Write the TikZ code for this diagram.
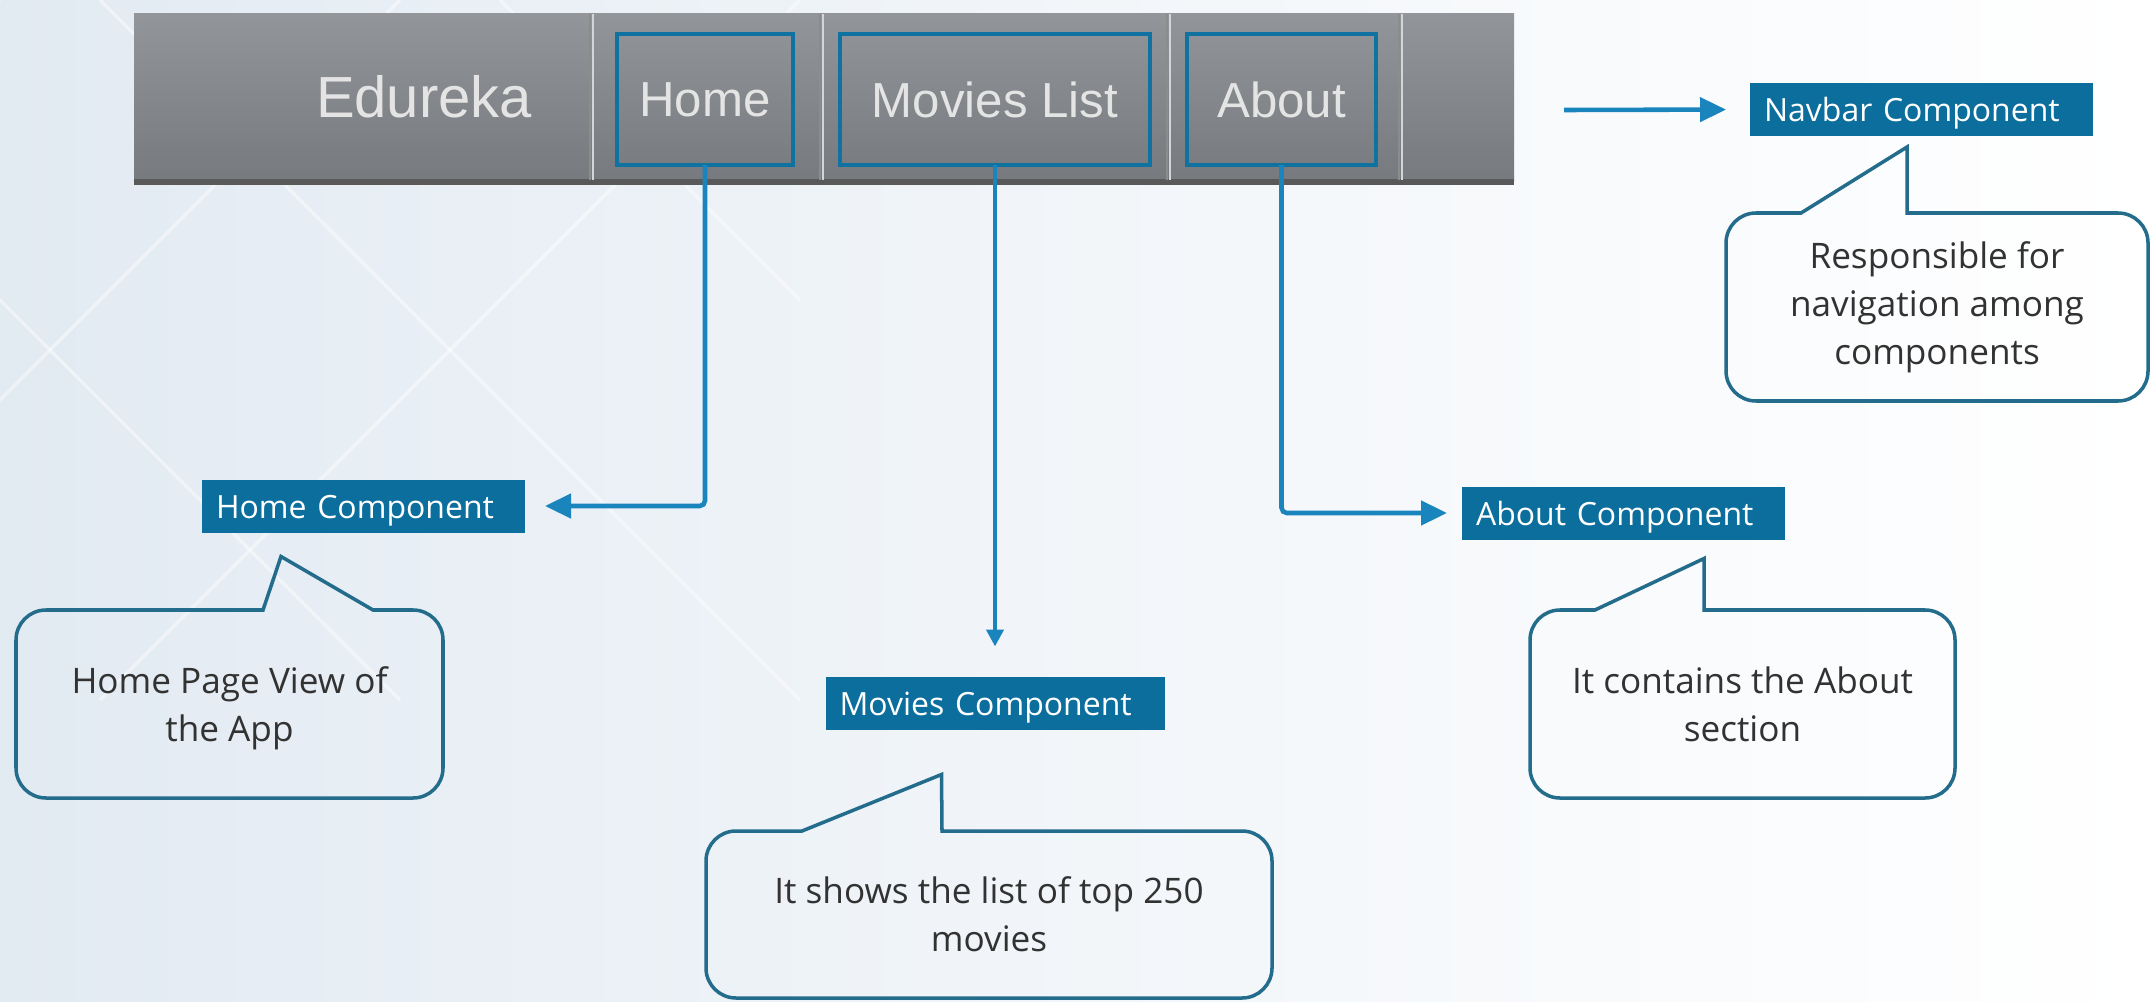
\documentclass[tikz,border=0pt]{standalone}
\usepackage{fontspec}
\setmainfont{Open Sans}
\newfontfamily\navfont{Liberation Sans}
\usepackage{xcolor}
\usetikzlibrary{shapes,arrows,arrows.meta,positioning,calc}

\definecolor{compblue}{RGB}{12,110,156}
\definecolor{arrowblue}{RGB}{26,132,188}
\definecolor{bubbleline}{RGB}{36,108,140}
\definecolor{navbox}{RGB}{16,114,160}
\definecolor{navtop}{RGB}{146,149,153}
\definecolor{navbot}{RGB}{118,121,125}
\definecolor{navtext}{RGB}{228,228,228}
\definecolor{textgrey}{RGB}{50,50,50}
\definecolor{bgblue}{RGB}{226,234,242}

\begin{document}
\begin{tikzpicture}[
    complabel/.style={fill=compblue, text=white, font=\fontsize{9.1}{11}\selectfont,
        minimum height=0.53cm, inner xsep=0.14cm, inner ysep=0pt,
        text height=0.27cm, text depth=0.02cm,
        align=left, text width=#1, outer sep=0pt},
    bubbletext/.style={text=textgrey, font=\fontsize{10}{13.7}\selectfont,
        align=center, inner sep=0pt, outer sep=0pt},
    bubble/.style={draw=bubbleline, line width=1pt},
    navitem/.style={draw=navbox, line width=1.2pt, text=navtext,
        font=\navfont\fontsize{14}{16}\selectfont, minimum height=1.31cm, outer sep=0pt},
    link/.style={draw=arrowblue, line width=1.3pt, rounded corners=1.5pt,
        -{Triangle[length=0.26cm,width=0.24cm]}},
    bgline/.style={white, line width=1pt, opacity=0.45},
]
    \useasboundingbox (0,0) rectangle (21.51,-10.02);

    % Background
    \shade[left color=bgblue, right color=white, middle color=white!55!bgblue]
        (0,0) rectangle (21.51,-10.02);
    \begin{scope}
        \clip (0,0) rectangle (8,-10.02);
        \foreach \s in {-3,1,5} {
            \draw[bgline] (\s,0) -- ++(7,-7);
            \draw[bgline] (\s+3,0) -- ++(-7,-7);
        }
    \end{scope}

    % Navbar
    \node[top color=navtop, bottom color=navbot, minimum width=13.8cm,
        minimum height=1.68cm, inner sep=0pt, outer sep=0pt] (navbar) at (8.24,-0.98) {};
    \draw[black!65, line width=1.5pt] (navbar.south west) -- (navbar.south east);
    \foreach \x in {5.90,8.20,11.67,13.99} {
        \draw[black!45, line width=0.6pt] (\x,-0.14) -- (\x,-1.80);
        \draw[white!60!navtop, line width=0.6pt] (\x+0.03,-0.14) -- (\x+0.03,-1.80);
    }
    \node[text=navtext, font=\navfont\fontsize{16.5}{18}\selectfont] (brand) at (4.24,-0.97) {Edureka};
    \node[navitem, minimum width=1.76cm] (homebox) at (7.05,-0.995) {Home};
    \node[navitem, minimum width=3.10cm] (moviesbox) at (9.95,-0.995) {Movies List};
    \node[navitem, minimum width=1.89cm] (aboutbox) at (12.815,-0.995) {About};

    % Component labels
    \node[complabel=3.15cm] (navlbl) at (19.215,-1.095) {Navbar Component};
    \node[complabel=2.95cm] (homelbl) at (3.635,-5.06) {Home Component};
    \node[complabel=3.11cm] (movieslbl) at (9.95,-7.03) {Movies Component};
    \node[complabel=2.95cm] (aboutlbl) at (16.235,-5.13) {About Component};

    % Connectors
    \coordinate (navstart) at (15.64,-1.10);
    \draw[link, shorten >=0.24cm] (navstart) -- (navlbl.west);
    \draw[link, shorten >=0.2cm] (homebox.south) |- (homelbl.east);
    \draw[link, -{Triangle[length=0.17cm,width=0.17cm]}, shorten >=0.3cm]
        (moviesbox.south) -- (movieslbl.north);
    \draw[link, shorten >=0.15cm] (aboutbox.south) |- (aboutlbl.west);

    % Callouts
    \node[bubbletext, minimum width=4.22cm, minimum height=1.88cm] (navbub) at (19.37,-3.07)
        {Responsible for\\navigation among\\components};
    \draw[bubble] ($(navbub.north west)+(2.5,0)$) [rounded corners=0.3cm]
        -- (navbub.north east) -- (navbub.south east) -- (navbub.south west)
        -- (navbub.north west) [sharp corners] -- ($(navbub.north west)+(0.75,0)$)
        -- ($(navlbl.south west)+(1.57,-0.11)$) -- ($(navbub.north west)+(1.81,0)$) -- cycle;

    \node[bubbletext, minimum width=4.27cm, minimum height=1.88cm, text depth=0pt] (homebub) at (2.295,-7.04)
        {Home Page View of\\the App};
    \draw[bubble] ($(homebub.north west)+(3.9,0)$) [rounded corners=0.3cm]
        -- (homebub.north east) -- (homebub.south east) -- (homebub.south west)
        -- (homebub.north west) [sharp corners] -- ($(homebub.north west)+(2.47,0)$)
        -- ($(homelbl.south west)+(0.79,-0.24)$) -- ($(homebub.north west)+(3.57,0)$) -- cycle;

    \node[bubbletext, minimum width=5.66cm, minimum height=1.67cm] (moviesbub) at (9.89,-9.145)
        {It shows the list of top 250\\movies};
    \draw[bubble] ($(moviesbub.north west)+(3.5,0)$) [rounded corners=0.3cm]
        -- (moviesbub.north east) -- (moviesbub.south east) -- (moviesbub.south west)
        -- (moviesbub.north west) [sharp corners] -- ($(moviesbub.north west)+(0.96,0)$)
        -- ($(movieslbl.south west)+(1.16,-0.45)$) -- ($(moviesbub.north west)+(2.36,0)$) -- cycle;

    \node[bubbletext, minimum width=4.25cm, minimum height=1.88cm] (aboutbub) at (17.425,-7.04)
        {It contains the About\\section};
    \draw[bubble] ($(aboutbub.north west)+(2.5,0)$) [rounded corners=0.3cm]
        -- (aboutbub.north east) -- (aboutbub.south east) -- (aboutbub.south west)
        -- (aboutbub.north west) [sharp corners] -- ($(aboutbub.north west)+(0.65,0)$)
        -- ($(aboutlbl.south west)+(2.42,-0.19)$) -- ($(aboutbub.north west)+(1.74,0)$) -- cycle;
\end{tikzpicture}
\end{document}
